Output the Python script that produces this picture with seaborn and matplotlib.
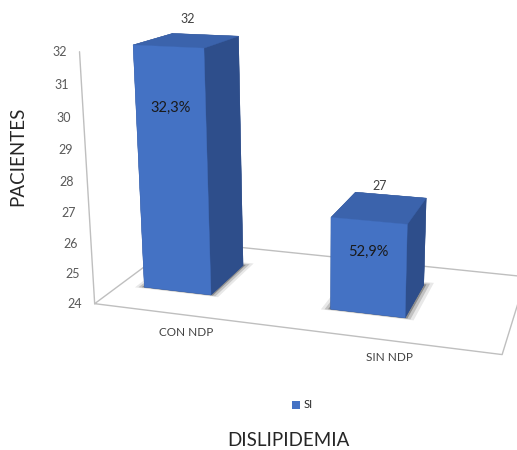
import numpy as np
import matplotlib
matplotlib.use("Agg")
import matplotlib.pyplot as plt
from matplotlib.patches import Patch
from mpl_toolkits.mplot3d import proj3d
from mpl_toolkits.mplot3d.art3d import Poly3DCollection
import seaborn as sns

# Data
categories = ["CON NDP", "SIN NDP"]
pacientes = [32, 27]
porcentajes = ["32,3%", "52,9%"]
series_name = "SI"
z_ticks = [24, 25, 26, 27, 28, 29, 30, 31, 32]

sns.set_theme(style="white")
plt.rcParams["font.family"] = ["Lato", "DejaVu Sans"]

front = sns.color_palette(["#4472C4"])[0]
top = "#3B63AC"
side = "#2E4E8B"
floor_color = "#BFBFBF"
tick_color = "#595959"
label_color = "#404040"

fig = plt.figure(figsize=(5.17, 4.5), dpi=100)
ax = fig.add_axes([0.1165, 0.046, 0.970, 1.1144], projection="3d")
ax.computed_zorder = False
ax.set_proj_type("persp", focal_length=0.38)
ax.view_init(elev=15, azim=-73)
ax.set_box_aspect((2, 1, 1.25))
zmin, zmax = z_ticks[0], z_ticks[-1]
n = len(categories)
ax.set_xlim(0, n)
ax.set_ylim(0, 1)
ax.set_zlim(zmin, zmax)
ax.set_axis_off()
M = ax.get_proj()


def to2d(x, y, z):
    px, py, _ = proj3d.proj_transform(x, y, z, M)
    return px, py


# Floor outline and vertical value axis
fx = [0, n, n, 0, 0]
fy = [0, 0, 1, 1, 0]
ax.plot(fx, fy, [zmin] * 5, color=floor_color, lw=1.0, zorder=1)
ax.plot([0, 0], [0, 0], [zmin, zmax], color=floor_color, lw=1.0, zorder=1)

# Column footprint
bar_w, bar_d = 0.37, 0.45
x_pos = np.arange(n) + 0.32
y_front = 0.5 - bar_d / 2

# Soft shadows hugging the column bases
for grow, alpha in [(0.045, 0.09), (0.028, 0.16), (0.012, 0.28)]:
    polys = []
    for xc in x_pos:
        x0, x1 = xc - bar_w / 2 - grow, xc + bar_w / 2 + grow
        y0, y1 = y_front - grow * 0.4, y_front + bar_d + grow
        polys.append([(x0, y0, zmin), (x1, y0, zmin), (x1, y1, zmin), (x0, y1, zmin)])
    ax.add_collection3d(Poly3DCollection(polys, facecolor="black", alpha=alpha,
                                         edgecolor="none", zorder=2))

# 3D columns
heights = np.array(pacientes, dtype=float) - zmin
face_colors = [side, top, front, side, side, side] * n
ax.bar3d(x_pos - bar_w / 2, np.full(n, y_front), np.full(n, zmin),
         bar_w, bar_d, heights, color=face_colors, shade=False,
         edgecolor=face_colors, linewidth=0.3, zorder=3)

# Value axis tick labels
for t in z_ticks:
    ax.annotate(str(t), xy=to2d(0, 0, t), xytext=(-13, 0), textcoords="offset pixels",
                ha="right", va="center", fontsize=9, color=tick_color, zorder=10)

# Labels on the columns
pct_offsets = [1.9, 1.0]
for xc, v, pct, off in zip(x_pos, pacientes, porcentajes, pct_offsets):
    ax.annotate(str(v), xy=to2d(xc, y_front + bar_d / 2, v), xytext=(0, 21),
                textcoords="offset pixels", ha="center", va="center", fontsize=9,
                color=label_color, zorder=10)
    ax.annotate(pct, xy=to2d(xc, y_front, v - off), ha="center", va="center",
                fontsize=10.5, color="#1A1A1A", zorder=10)

# Category labels below the front edge of the floor
for i, cat in enumerate(categories):
    ax.annotate(cat, xy=to2d(i + 0.5, 0, zmin), xytext=(-2, -17),
                textcoords="offset pixels", ha="center", va="center",
                fontsize=8.5, color=label_color, zorder=10)

fig.text(0.035, 0.653, "PACIENTES", rotation=90, fontsize=13.5, ha="center",
         va="center", color="#262626")
fig.text(0.557, 0.022, "DISLIPIDEMIA", fontsize=13.5, ha="center", va="center",
         color="#262626")
fig.legend(handles=[Patch(facecolor=front, edgecolor="none")], labels=[series_name],
           loc="center", bbox_to_anchor=(0.585, 0.1), frameon=False,
           handlelength=0.7, handleheight=0.7, handletextpad=0.3, fontsize=8)

fig.savefig("out.png", dpi=100)
